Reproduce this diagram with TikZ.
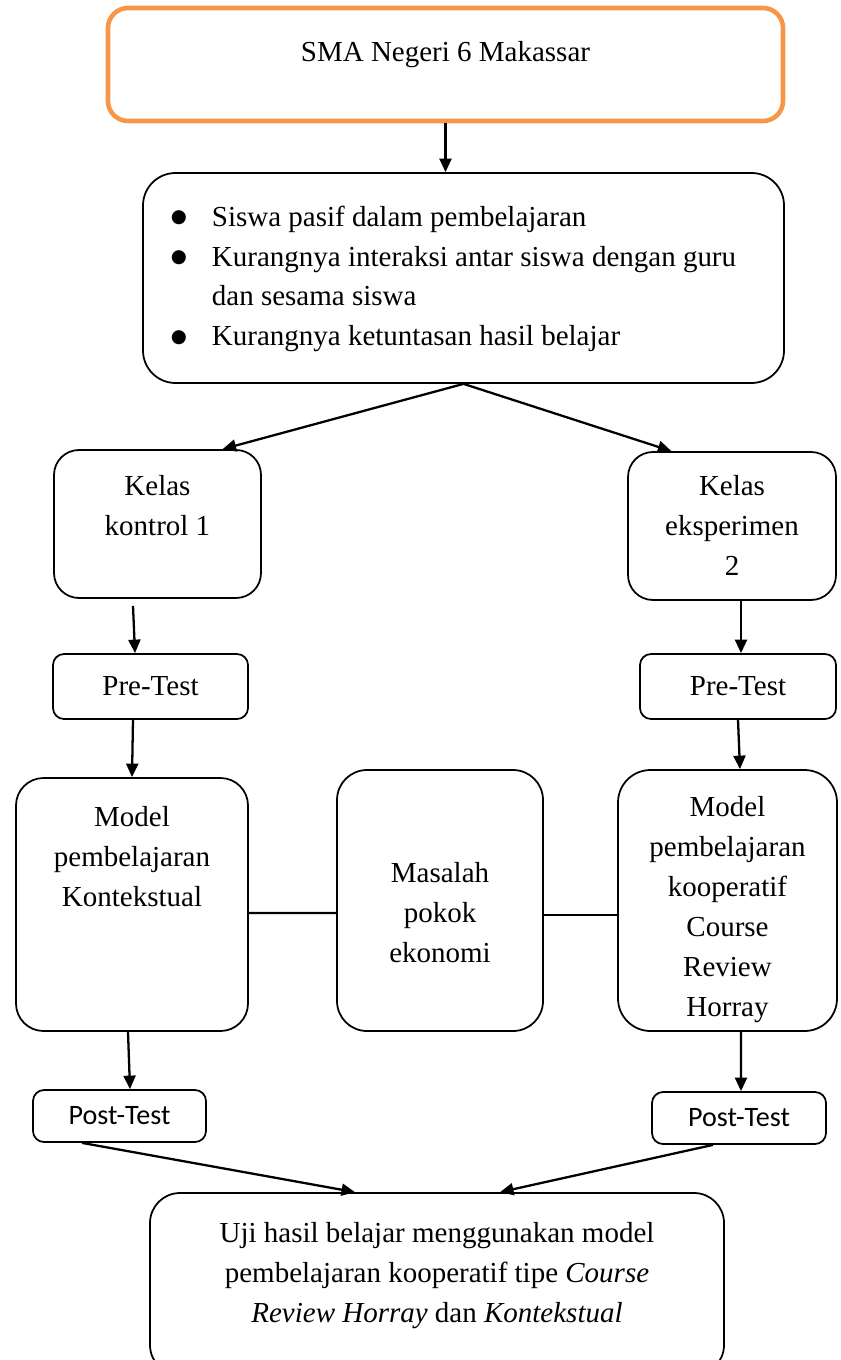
\documentclass[tikz,border=0pt]{standalone}
\usepackage{fontspec}
\setmainfont{Liberation Serif}
\newfontfamily\calibri{Carlito}
\newfontfamily\dejavu{DejaVu Sans}
\usetikzlibrary{positioning,arrows.meta}
\definecolor{accentorange}{HTML}{F79646}
\newcommand{\dotitem}{\raisebox{2.2pt}{\dejavu\fontsize{10.5}{10.5}\selectfont ●}}
\begin{document}
\begin{tikzpicture}[every node/.style={font=\fontsize{16.5}{22.76}\selectfont},
                    box/.style={draw, line width=1pt, rounded corners=#1},
                    box/.default=0.5cm,
                    txt/.style={align=center, inner sep=0pt},
                    arr/.style={-{Triangle[length=0.27cm,width=0.24cm]}, line width=1.3pt},
                    ln/.style={line width=1.3pt}]
                    \clip (0,0) rectangle (16.8,-27.2);
                    % Sekolah
                    \node[draw=accentorange, line width=2.6pt, rounded corners=0.4cm, minimum width=13.5cm, minimum height=2.26cm] (sma) at (8.91,-1.29) {};
                    \node[txt, below=0.7cm of sma.north] (smatxt) {SMA Negeri 6 Makassar};

                    % Masalah di kelas
                    \node[box=0.65cm, minimum width=12.82cm, minimum height=4.2cm] (masalahkelas) at (9.27,-5.56) {%
                        \begin{tabular}{@{}l@{\hspace{0.5cm}}l@{\hspace{0.4cm}}}
                            \dotitem & Siswa pasif dalam pembelajaran\\
                            \dotitem & Kurangnya interaksi antar siswa dengan guru\\
                                     & dan sesama siswa\\
                            \dotitem & Kurangnya ketuntasan hasil belajar
                        \end{tabular}};

                    % Kelas
                    \node[box, minimum width=4.14cm, minimum height=2.96cm] (kontrol) at (3.15,-10.48) {};
                    \node[txt, below=0.52cm of kontrol.north] (kontroltxt) {Kelas\\kontrol 1};
                    \node[box, minimum width=4.16cm, minimum height=2.96cm] (eksperimen) at (14.64,-10.52) {};
                    \node[txt, below=0.48cm of eksperimen.north] (eksperimentxt) {Kelas\\eksperimen\\2};

                    % Pre-Test
                    \node[box=0.22cm, minimum width=3.9cm, minimum height=1.3cm] (pretestA) at (3.01,-13.73) {Pre-Test};
                    \node[box=0.22cm, minimum width=3.92cm, minimum height=1.3cm] (pretestB) at (14.76,-13.73) {Pre-Test};

                    % Model pembelajaran
                    \node[box=0.55cm, minimum width=4.64cm, minimum height=5.06cm] (modelA) at (2.64,-18.09) {};
                    \node[txt, below=0.58cm of modelA.north] (modelAtxt) {Model\\pembelajaran\\Kontekstual};
                    \node[box=0.6cm, minimum width=4.12cm, minimum height=5.22cm] (pokok) at (8.8,-18.01) {};
                    \node[txt, below=1.86cm of pokok.north] (pokoktxt) {Masalah\\pokok\\ekonomi};
                    \node[box=0.65cm, minimum width=4.38cm, minimum height=5.22cm] (modelB) at (14.55,-18.01) {};
                    \node[txt, below=0.54cm of modelB.north] (modelBtxt) {Model\\pembelajaran\\kooperatif\\Course\\Review\\Horray};

                    % Post-Test
                    \node[box=0.22cm, minimum width=3.46cm, minimum height=1.04cm, font=\calibri\fontsize{16}{20}\selectfont] (posttestA) at (2.39,-22.32) {Post-Test};
                    \node[box=0.22cm, minimum width=3.48cm, minimum height=1.04cm, font=\calibri\fontsize{16}{20}\selectfont] (posttestB) at (14.78,-22.36) {Post-Test};

                    % Uji hasil belajar
                    \node[box=0.6cm, minimum width=11.48cm, minimum height=3.64cm] (uji) at (8.74,-25.68) {};
                    \node[txt, below=0.6cm of uji.north] (ujitxt) {Uji hasil belajar menggunakan model\\pembelajaran kooperatif tipe \textit{Course}\\\textit{Review Horray} dan \textit{Kontekstual}};

                    % Panah
                    \draw[arr] (sma.south) -- (sma.south |- masalahkelas.north);
                    \draw[arr] (masalahkelas.south) -- (kontrol.49);
                    \draw[arr] (masalahkelas.south) -- (eksperimen.129);
                    \draw[arr] ([shift={(-0.49,-0.14)}]kontrol.south) -- ([xshift=-0.31cm]pretestA.north);
                    \draw[arr] ([xshift=0.18cm]eksperimen.south) -- ([xshift=0.06cm]pretestB.north);
                    \draw[arr] ([xshift=-0.35cm]pretestA.south) -- (modelA.north);
                    \draw[arr] (pretestB.south) -- ([xshift=0.25cm]modelB.north);
                    \draw[arr] ([xshift=-0.08cm]modelA.south) -- ([xshift=0.21cm]posttestA.north);
                    \draw[arr] ([xshift=0.27cm]modelB.south) -- ([xshift=0.04cm]posttestB.north);
                    \draw[arr] ([xshift=-0.75cm]posttestA.south) -- ([xshift=-1.64cm]uji.north);
                    \draw[arr] ([xshift=-0.52cm]posttestB.south) -- ([xshift=1.26cm]uji.north);
                    \draw[ln] ([yshift=-0.17cm]modelA.east) -- ([yshift=-0.25cm]pokok.west);
                    \draw[ln] ([yshift=-0.29cm]pokok.east) -- ([yshift=-0.29cm]modelB.west);
                \end{tikzpicture}
\end{document}
